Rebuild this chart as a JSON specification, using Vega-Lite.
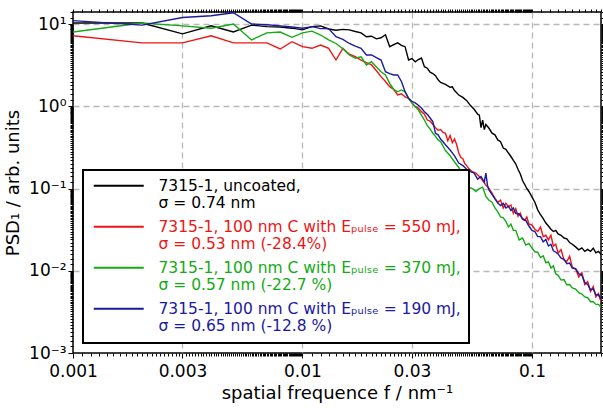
{
"$schema": "https://vega.github.io/schema/vega-lite/v6.json",
"width": 528, "height": 341,
"autosize": {"type": "none"},
"padding": {"left": 73, "top": 12, "right": 2, "bottom": 55},
"background": "white",
"config": {"view": {"stroke": "black", "strokeWidth": 1.5}, "font": "DejaVu Sans"},
"datasets": {
"psd": [
{"s":"k","f":0.001,"v":10.3},{"s":"k","f":0.002,"v":10.3},{"s":"k","f":0.003,"v":7.6},{"s":"k","f":0.004,"v":9.5},{"s":"k","f":0.005,"v":8.0},{"s":"k","f":0.006,"v":9.7},{"s":"k","f":0.007,"v":9.3},{"s":"k","f":0.008,"v":9.2},{"s":"k","f":0.009,"v":8.9},{"s":"k","f":0.010,"v":8.5},{"s":"k","f":0.011,"v":9.3},{"s":"k","f":0.012,"v":9.5},{"s":"k","f":0.013,"v":8.7},{"s":"k","f":0.014,"v":8.4},{"s":"k","f":0.015,"v":8.6},{"s":"k","f":0.016,"v":8.5},{"s":"k","f":0.017,"v":8.1},{"s":"k","f":0.018,"v":7.8},{"s":"k","f":0.019,"v":7.0},{"s":"k","f":0.020,"v":7.1},{"s":"k","f":0.021,"v":6.6},{"s":"k","f":0.022,"v":6.8},{"s":"k","f":0.023,"v":7.4},{"s":"k","f":0.024,"v":5.3},{"s":"k","f":0.025,"v":5.6},{"s":"k","f":0.026,"v":5.9},{"s":"k","f":0.027,"v":5.5},{"s":"k","f":0.028,"v":5.3},{"s":"k","f":0.029,"v":3.65},{"s":"k","f":0.030,"v":3.8},{"s":"k","f":0.031,"v":3.47},{"s":"k","f":0.032,"v":3.7},{"s":"k","f":0.033,"v":3.86},{"s":"k","f":0.034,"v":3.03},{"s":"k","f":0.035,"v":2.9},{"s":"k","f":0.036,"v":2.6},{"s":"k","f":0.037,"v":2.5},{"s":"k","f":0.038,"v":2.35},{"s":"k","f":0.039,"v":2.1},{"s":"k","f":0.040,"v":1.95},{"s":"k","f":0.042,"v":1.85},{"s":"k","f":0.044,"v":1.7},{"s":"k","f":0.045,"v":1.72},{"s":"k","f":0.046,"v":1.55},{"s":"k","f":0.048,"v":1.37},{"s":"k","f":0.050,"v":1.28},{"s":"k","f":0.052,"v":1.17},{"s":"k","f":0.054,"v":1.02},{"s":"k","f":0.056,"v":0.92},{"s":"k","f":0.058,"v":0.80},{"s":"k","f":0.059,"v":0.78},{"s":"k","f":0.060,"v":0.55},{"s":"k","f":0.061,"v":0.68},{"s":"k","f":0.062,"v":0.52},{"s":"k","f":0.063,"v":0.60},{"s":"k","f":0.065,"v":0.54},{"s":"k","f":0.067,"v":0.47},{"s":"k","f":0.069,"v":0.45},{"s":"k","f":0.071,"v":0.39},{"s":"k","f":0.073,"v":0.37},{"s":"k","f":0.075,"v":0.31},{"s":"k","f":0.077,"v":0.30},{"s":"k","f":0.079,"v":0.27},{"s":"k","f":0.081,"v":0.245},{"s":"k","f":0.083,"v":0.22},{"s":"k","f":0.085,"v":0.20},{"s":"k","f":0.087,"v":0.17},{"s":"k","f":0.089,"v":0.15},{"s":"k","f":0.091,"v":0.125},{"s":"k","f":0.093,"v":0.112},{"s":"k","f":0.095,"v":0.10},{"s":"k","f":0.097,"v":0.092},{"s":"k","f":0.100,"v":0.079},{"s":"k","f":0.103,"v":0.068},{"s":"k","f":0.106,"v":0.055},{"s":"k","f":0.109,"v":0.048},{"s":"k","f":0.112,"v":0.043},{"s":"k","f":0.115,"v":0.038},{"s":"k","f":0.118,"v":0.035},{"s":"k","f":0.121,"v":0.032},{"s":"k","f":0.124,"v":0.030},{"s":"k","f":0.127,"v":0.031},{"s":"k","f":0.130,"v":0.028},{"s":"k","f":0.134,"v":0.027},{"s":"k","f":0.138,"v":0.025},{"s":"k","f":0.142,"v":0.0245},{"s":"k","f":0.146,"v":0.022},{"s":"k","f":0.150,"v":0.021},{"s":"k","f":0.155,"v":0.0195},{"s":"k","f":0.160,"v":0.018},{"s":"k","f":0.165,"v":0.019},{"s":"k","f":0.170,"v":0.0172},{"s":"k","f":0.175,"v":0.0182},{"s":"k","f":0.180,"v":0.0172},{"s":"k","f":0.185,"v":0.0188},{"s":"k","f":0.190,"v":0.0165},{"s":"k","f":0.195,"v":0.0172},{"s":"k","f":0.200,"v":0.0158},
{"s":"r","f":0.001,"v":7.2},{"s":"r","f":0.002,"v":5.9},{"s":"r","f":0.003,"v":5.9},{"s":"r","f":0.004,"v":7.2},{"s":"r","f":0.005,"v":5.9},{"s":"r","f":0.006,"v":5.9},{"s":"r","f":0.007,"v":5.9},{"s":"r","f":0.008,"v":4.97},{"s":"r","f":0.009,"v":6.1},{"s":"r","f":0.010,"v":5.3},{"s":"r","f":0.011,"v":5.07},{"s":"r","f":0.012,"v":5.56},{"s":"r","f":0.013,"v":5.07},{"s":"r","f":0.014,"v":3.65},{"s":"r","f":0.015,"v":5.07},{"s":"r","f":0.016,"v":4.3},{"s":"r","f":0.017,"v":4.0},{"s":"r","f":0.018,"v":3.65},{"s":"r","f":0.019,"v":3.4},{"s":"r","f":0.020,"v":3.18},{"s":"r","f":0.021,"v":2.7},{"s":"r","f":0.022,"v":2.29},{"s":"r","f":0.023,"v":2.0},{"s":"r","f":0.024,"v":1.73},{"s":"r","f":0.025,"v":1.6},{"s":"r","f":0.026,"v":1.37},{"s":"r","f":0.027,"v":1.42},{"s":"r","f":0.028,"v":1.3},{"s":"r","f":0.029,"v":1.25},{"s":"r","f":0.030,"v":1.1},{"s":"r","f":0.031,"v":0.99},{"s":"r","f":0.032,"v":0.95},{"s":"r","f":0.033,"v":0.86},{"s":"r","f":0.034,"v":0.80},{"s":"r","f":0.035,"v":0.68},{"s":"r","f":0.036,"v":0.66},{"s":"r","f":0.037,"v":0.60},{"s":"r","f":0.038,"v":0.55},{"s":"r","f":0.039,"v":0.51},{"s":"r","f":0.040,"v":0.52},{"s":"r","f":0.041,"v":0.48},{"s":"r","f":0.042,"v":0.47},{"s":"r","f":0.043,"v":0.38},{"s":"r","f":0.044,"v":0.44},{"s":"r","f":0.045,"v":0.36},{"s":"r","f":0.046,"v":0.40},{"s":"r","f":0.047,"v":0.34},{"s":"r","f":0.048,"v":0.27},{"s":"r","f":0.049,"v":0.24},{"s":"r","f":0.050,"v":0.23},{"s":"r","f":0.051,"v":0.20},{"s":"r","f":0.052,"v":0.19},{"s":"r","f":0.053,"v":0.175},{"s":"r","f":0.055,"v":0.16},{"s":"r","f":0.057,"v":0.154},{"s":"r","f":0.059,"v":0.14},{"s":"r","f":0.061,"v":0.125},{"s":"r","f":0.063,"v":0.11},{"s":"r","f":0.065,"v":0.10},{"s":"r","f":0.067,"v":0.088},{"s":"r","f":0.069,"v":0.076},{"s":"r","f":0.071,"v":0.068},{"s":"r","f":0.073,"v":0.072},{"s":"r","f":0.075,"v":0.058},{"s":"r","f":0.077,"v":0.066},{"s":"r","f":0.079,"v":0.06},{"s":"r","f":0.081,"v":0.063},{"s":"r","f":0.083,"v":0.05},{"s":"r","f":0.085,"v":0.057},{"s":"r","f":0.087,"v":0.046},{"s":"r","f":0.089,"v":0.05},{"s":"r","f":0.091,"v":0.042},{"s":"r","f":0.093,"v":0.041},{"s":"r","f":0.095,"v":0.045},{"s":"r","f":0.097,"v":0.037},{"s":"r","f":0.100,"v":0.036},{"s":"r","f":0.103,"v":0.032},{"s":"r","f":0.106,"v":0.030},{"s":"r","f":0.109,"v":0.034},{"s":"r","f":0.112,"v":0.026},{"s":"r","f":0.115,"v":0.027},{"s":"r","f":0.118,"v":0.0237},{"s":"r","f":0.121,"v":0.027},{"s":"r","f":0.124,"v":0.020},{"s":"r","f":0.127,"v":0.021},{"s":"r","f":0.130,"v":0.0164},{"s":"r","f":0.134,"v":0.018},{"s":"r","f":0.138,"v":0.0135},{"s":"r","f":0.142,"v":0.013},{"s":"r","f":0.146,"v":0.015},{"s":"r","f":0.150,"v":0.011},{"s":"r","f":0.155,"v":0.0105},{"s":"r","f":0.160,"v":0.0084},{"s":"r","f":0.165,"v":0.0095},{"s":"r","f":0.170,"v":0.0068},{"s":"r","f":0.175,"v":0.0074},{"s":"r","f":0.180,"v":0.0056},{"s":"r","f":0.185,"v":0.0064},{"s":"r","f":0.190,"v":0.0048},{"s":"r","f":0.195,"v":0.0053},{"s":"r","f":0.200,"v":0.0042},
{"s":"g","f":0.001,"v":8.0},{"s":"g","f":0.002,"v":10.3},{"s":"g","f":0.003,"v":9.5},{"s":"g","f":0.004,"v":8.9},{"s":"g","f":0.005,"v":10.0},{"s":"g","f":0.006,"v":6.4},{"s":"g","f":0.007,"v":7.8},{"s":"g","f":0.008,"v":8.0},{"s":"g","f":0.009,"v":6.9},{"s":"g","f":0.010,"v":7.8},{"s":"g","f":0.011,"v":8.2},{"s":"g","f":0.012,"v":7.35},{"s":"g","f":0.013,"v":6.4},{"s":"g","f":0.014,"v":5.8},{"s":"g","f":0.015,"v":5.0},{"s":"g","f":0.016,"v":4.2},{"s":"g","f":0.017,"v":3.83},{"s":"g","f":0.018,"v":4.0},{"s":"g","f":0.019,"v":3.18},{"s":"g","f":0.020,"v":3.48},{"s":"g","f":0.021,"v":3.0},{"s":"g","f":0.022,"v":2.63},{"s":"g","f":0.023,"v":2.4},{"s":"g","f":0.024,"v":1.9},{"s":"g","f":0.025,"v":1.6},{"s":"g","f":0.026,"v":1.5},{"s":"g","f":0.027,"v":1.58},{"s":"g","f":0.028,"v":1.5},{"s":"g","f":0.029,"v":1.25},{"s":"g","f":0.030,"v":1.1},{"s":"g","f":0.031,"v":0.99},{"s":"g","f":0.032,"v":0.9},{"s":"g","f":0.033,"v":0.78},{"s":"g","f":0.034,"v":0.68},{"s":"g","f":0.035,"v":0.58},{"s":"g","f":0.036,"v":0.53},{"s":"g","f":0.037,"v":0.47},{"s":"g","f":0.038,"v":0.43},{"s":"g","f":0.039,"v":0.39},{"s":"g","f":0.040,"v":0.37},{"s":"g","f":0.042,"v":0.29},{"s":"g","f":0.044,"v":0.25},{"s":"g","f":0.046,"v":0.21},{"s":"g","f":0.048,"v":0.18},{"s":"g","f":0.050,"v":0.15},{"s":"g","f":0.052,"v":0.12},{"s":"g","f":0.053,"v":0.104},{"s":"g","f":0.055,"v":0.10},{"s":"g","f":0.057,"v":0.092},{"s":"g","f":0.059,"v":0.1},{"s":"g","f":0.061,"v":0.104},{"s":"g","f":0.063,"v":0.08},{"s":"g","f":0.065,"v":0.072},{"s":"g","f":0.067,"v":0.068},{"s":"g","f":0.069,"v":0.058},{"s":"g","f":0.071,"v":0.052},{"s":"g","f":0.073,"v":0.045},{"s":"g","f":0.075,"v":0.044},{"s":"g","f":0.077,"v":0.04},{"s":"g","f":0.079,"v":0.034},{"s":"g","f":0.081,"v":0.037},{"s":"g","f":0.083,"v":0.031},{"s":"g","f":0.085,"v":0.031},{"s":"g","f":0.088,"v":0.0237},{"s":"g","f":0.091,"v":0.025},{"s":"g","f":0.094,"v":0.0205},{"s":"g","f":0.097,"v":0.0215},{"s":"g","f":0.100,"v":0.0189},{"s":"g","f":0.103,"v":0.017},{"s":"g","f":0.106,"v":0.0168},{"s":"g","f":0.109,"v":0.0145},{"s":"g","f":0.112,"v":0.0152},{"s":"g","f":0.115,"v":0.0125},{"s":"g","f":0.118,"v":0.0128},{"s":"g","f":0.121,"v":0.0108},{"s":"g","f":0.124,"v":0.0115},{"s":"g","f":0.127,"v":0.0092},{"s":"g","f":0.130,"v":0.0088},{"s":"g","f":0.134,"v":0.0077},{"s":"g","f":0.138,"v":0.0078},{"s":"g","f":0.142,"v":0.0067},{"s":"g","f":0.146,"v":0.0068},{"s":"g","f":0.150,"v":0.0062},{"s":"g","f":0.155,"v":0.006},{"s":"g","f":0.160,"v":0.0054},{"s":"g","f":0.165,"v":0.0052},{"s":"g","f":0.170,"v":0.0048},{"s":"g","f":0.175,"v":0.0047},{"s":"g","f":0.180,"v":0.0042},{"s":"g","f":0.185,"v":0.0042},{"s":"g","f":0.190,"v":0.0039},{"s":"g","f":0.195,"v":0.0039},{"s":"g","f":0.200,"v":0.0036},
{"s":"b","f":0.001,"v":11.0},{"s":"b","f":0.002,"v":9.7},{"s":"b","f":0.003,"v":12.0},{"s":"b","f":0.004,"v":12.6},{"s":"b","f":0.005,"v":13.7},{"s":"b","f":0.006,"v":10.0},{"s":"b","f":0.007,"v":9.8},{"s":"b","f":0.008,"v":9.5},{"s":"b","f":0.009,"v":9.2},{"s":"b","f":0.010,"v":8.9},{"s":"b","f":0.011,"v":9.3},{"s":"b","f":0.012,"v":8.8},{"s":"b","f":0.013,"v":8.8},{"s":"b","f":0.014,"v":7.0},{"s":"b","f":0.015,"v":6.5},{"s":"b","f":0.016,"v":5.8},{"s":"b","f":0.017,"v":5.4},{"s":"b","f":0.018,"v":5.07},{"s":"b","f":0.019,"v":4.2},{"s":"b","f":0.020,"v":4.2},{"s":"b","f":0.021,"v":3.9},{"s":"b","f":0.022,"v":3.65},{"s":"b","f":0.023,"v":2.63},{"s":"b","f":0.024,"v":2.5},{"s":"b","f":0.025,"v":2.4},{"s":"b","f":0.026,"v":2.4},{"s":"b","f":0.027,"v":2.0},{"s":"b","f":0.028,"v":1.5},{"s":"b","f":0.029,"v":1.25},{"s":"b","f":0.030,"v":1.15},{"s":"b","f":0.031,"v":1.1},{"s":"b","f":0.032,"v":1.03},{"s":"b","f":0.033,"v":0.95},{"s":"b","f":0.034,"v":0.86},{"s":"b","f":0.035,"v":0.80},{"s":"b","f":0.036,"v":0.72},{"s":"b","f":0.037,"v":0.65},{"s":"b","f":0.038,"v":0.47},{"s":"b","f":0.039,"v":0.45},{"s":"b","f":0.040,"v":0.40},{"s":"b","f":0.042,"v":0.34},{"s":"b","f":0.044,"v":0.294},{"s":"b","f":0.046,"v":0.25},{"s":"b","f":0.048,"v":0.204},{"s":"b","f":0.050,"v":0.19},{"s":"b","f":0.052,"v":0.17},{"s":"b","f":0.054,"v":0.16},{"s":"b","f":0.056,"v":0.154},{"s":"b","f":0.058,"v":0.13},{"s":"b","f":0.060,"v":0.14},{"s":"b","f":0.062,"v":0.12},{"s":"b","f":0.063,"v":0.154},{"s":"b","f":0.064,"v":0.11},{"s":"b","f":0.065,"v":0.096},{"s":"b","f":0.067,"v":0.085},{"s":"b","f":0.069,"v":0.075},{"s":"b","f":0.071,"v":0.0667},{"s":"b","f":0.073,"v":0.062},{"s":"b","f":0.075,"v":0.066},{"s":"b","f":0.077,"v":0.058},{"s":"b","f":0.079,"v":0.061},{"s":"b","f":0.081,"v":0.054},{"s":"b","f":0.083,"v":0.058},{"s":"b","f":0.085,"v":0.05},{"s":"b","f":0.088,"v":0.049},{"s":"b","f":0.091,"v":0.043},{"s":"b","f":0.094,"v":0.041},{"s":"b","f":0.097,"v":0.035},{"s":"b","f":0.100,"v":0.031},{"s":"b","f":0.103,"v":0.030},{"s":"b","f":0.106,"v":0.026},{"s":"b","f":0.109,"v":0.026},{"s":"b","f":0.112,"v":0.0225},{"s":"b","f":0.115,"v":0.024},{"s":"b","f":0.118,"v":0.02},{"s":"b","f":0.121,"v":0.021},{"s":"b","f":0.124,"v":0.0175},{"s":"b","f":0.127,"v":0.0168},{"s":"b","f":0.130,"v":0.016},{"s":"b","f":0.134,"v":0.0142},{"s":"b","f":0.138,"v":0.0138},{"s":"b","f":0.142,"v":0.0122},{"s":"b","f":0.146,"v":0.0124},{"s":"b","f":0.150,"v":0.0108},{"s":"b","f":0.155,"v":0.0106},{"s":"b","f":0.160,"v":0.0092},{"s":"b","f":0.165,"v":0.0088},{"s":"b","f":0.170,"v":0.0072},{"s":"b","f":0.175,"v":0.0068},{"s":"b","f":0.180,"v":0.0059},{"s":"b","f":0.185,"v":0.006},{"s":"b","f":0.190,"v":0.0051},{"s":"b","f":0.195,"v":0.0051},{"s":"b","f":0.200,"v":0.0045}
]},
"data": {"name": "psd"},
"layer": [
{
"mark": {"type": "line", "strokeWidth": 1.4, "clip": true},
"encoding": {
"x": {"field": "f", "type": "quantitative",
 "scale": {"type": "log", "domain": [0.001, 0.2], "nice": false},
 "axis": {"orient": "bottom",
  "values": [0.001,0.0011,0.0012,0.0013,0.0014,0.0015,0.0016,0.0017,0.0018,0.0019,0.002,0.0021,0.0022,0.0023,0.0024,0.0025,0.0026,0.0027,0.0028,0.0029,0.003,0.0031,0.0032,0.0033,0.0034,0.0035,0.0036,0.0037,0.0038,0.0039,0.004,0.0041,0.0042,0.0043,0.0044,0.0045,0.0046,0.0047,0.0048,0.0049,0.005,0.0051,0.0052,0.0053,0.0054,0.0055,0.0056,0.0057,0.0058,0.0059,0.006,0.0061,0.0062,0.0063,0.0064,0.0065,0.0066,0.0067,0.0068,0.0069,0.007,0.0071,0.0072,0.0073,0.0074,0.0075,0.0076,0.0077,0.0078,0.0079,0.008,0.0081,0.0082,0.0083,0.0084,0.0085,0.0086,0.0087,0.0088,0.0089,0.009,0.0091,0.0092,0.0093,0.0094,0.0095,0.0096,0.0097,0.0098,0.0099,0.01,0.011,0.012,0.013,0.014,0.015,0.016,0.017,0.018,0.019,0.02,0.021,0.022,0.023,0.024,0.025,0.026,0.027,0.028,0.029,0.03,0.031,0.032,0.033,0.034,0.035,0.036,0.037,0.038,0.039,0.04,0.041,0.042,0.043,0.044,0.045,0.046,0.047,0.048,0.049,0.05,0.051,0.052,0.053,0.054,0.055,0.056,0.057,0.058,0.059,0.06,0.061,0.062,0.063,0.064,0.065,0.066,0.067,0.068,0.069,0.07,0.071,0.072,0.073,0.074,0.075,0.076,0.077,0.078,0.079,0.08,0.081,0.082,0.083,0.084,0.085,0.086,0.087,0.088,0.089,0.09,0.091,0.092,0.093,0.094,0.095,0.096,0.097,0.098,0.099,0.1,0.11,0.12,0.13,0.14,0.15,0.16,0.17,0.18,0.19,0.2],
  "labelExpr": "indexof([0.001,0.003,0.01,0.03,0.1], datum.value) >= 0 ? datum.value == 0.001 ? '0.001' : datum.value == 0.003 ? '0.003' : datum.value == 0.01 ? '0.01' : datum.value == 0.03 ? '0.03' : '0.1' : ''",
  "labelOverlap": false, "labelFlush": false, "labelBound": false,
  "labelFontSize": 17, "labelColor": "black", "labelPadding": 5,
  "title": "spatial frequence f / nm⁻¹", "titleFontSize": 18, "titleFontWeight": "normal", "titleColor": "black", "titlePadding": 5,
  "domain": false, "tickColor": "black", "tickWidth": 1,
  "tickSize": {"condition": {"test": "indexof([0.001,0.003,0.01,0.03,0.1], datum.value) >= 0", "value": 5}, "value": 3},
  "grid": true, "gridColor": "#b8b8b8", "gridDash": [6, 4], "gridWidth": 1.3,
  "gridOpacity": {"condition": {"test": "indexof([0.003,0.01,0.03,0.1], datum.value) >= 0", "value": 1}, "value": 0}
 }},
"y": {"field": "v", "type": "quantitative",
 "scale": {"type": "log", "domain": [0.001, 14], "nice": false},
 "axis": {"orient": "left",
  "values": [0.001,0.0012,0.0014,0.0016,0.0018,0.002,0.0022,0.0024,0.0026,0.0028,0.003,0.0032,0.0034,0.0036,0.0038,0.004,0.0042,0.0044,0.0046,0.0048,0.005,0.0052,0.0054,0.0056,0.0058,0.006,0.0062,0.0064,0.0066,0.0068,0.007,0.0072,0.0074,0.0076,0.0078,0.008,0.0082,0.0084,0.0086,0.0088,0.009,0.0092,0.0094,0.0096,0.0098,0.01,0.012,0.014,0.016,0.018,0.02,0.022,0.024,0.026,0.028,0.03,0.032,0.034,0.036,0.038,0.04,0.042,0.044,0.046,0.048,0.05,0.052,0.054,0.056,0.058,0.06,0.062,0.064,0.066,0.068,0.07,0.072,0.074,0.076,0.078,0.08,0.082,0.084,0.086,0.088,0.09,0.092,0.094,0.096,0.098,0.1,0.12,0.14,0.16,0.18,0.2,0.22,0.24,0.26,0.28,0.3,0.32,0.34,0.36,0.38,0.4,0.42,0.44,0.46,0.48,0.5,0.52,0.54,0.56,0.58,0.6,0.62,0.64,0.66,0.68,0.7,0.72,0.74,0.76,0.78,0.8,0.82,0.84,0.86,0.88,0.9,0.92,0.94,0.96,0.98,1,1.2,1.4,1.6,1.8,2,2.2,2.4,2.6,2.8,3,3.2,3.4,3.6,3.8,4,4.2,4.4,4.6,4.8,5,5.2,5.4,5.6,5.8,6,6.2,6.4,6.6,6.8,7,7.2,7.4,7.6,7.8,8,8.2,8.4,8.6,8.8,9,9.2,9.4,9.6,9.8,10,12,14],
  "labelExpr": "datum.value == 10 ? '10¹' : datum.value == 1 ? '10⁰' : datum.value == 0.1 ? '10⁻¹' : datum.value == 0.01 ? '10⁻²' : datum.value == 0.001 ? '10⁻³' : ''",
  "labelOverlap": false, "labelFlush": false, "labelBound": false,
  "labelFontSize": 17, "labelColor": "black", "labelPadding": 2,
  "title": "PSD₁ / arb. units", "titleFontSize": 18, "titleFontWeight": "normal", "titleColor": "black", "titlePadding": 6,
  "domain": false, "tickColor": "black", "tickWidth": 1,
  "tickSize": {"condition": {"test": "indexof([0.001,0.01,0.1,1,10], datum.value) >= 0", "value": 5}, "value": 3},
  "grid": true, "gridColor": "#b8b8b8", "gridDash": [6, 4], "gridWidth": 1.3,
  "gridOpacity": {"condition": {"test": "indexof([0.01,0.1,1,10], datum.value) >= 0", "value": 1}, "value": 0}
 }},
"color": {"field": "s", "type": "nominal",
 "scale": {"domain": ["k", "r", "g", "b"], "range": ["#000000", "#ee1515", "#14aa14", "#1a1aa0"]},
 "legend": {
  "title": null, "orient": "bottom-left", "offset": 10,
  "symbolType": "M-5,0H5", "symbolSize": 100, "symbolStrokeWidth": 2, "symbolOffset": 20,
  "labelFontSize": 15.5, "labelLineHeight": 21.5, "labelLimit": 0, "labelOffset": 32,
  "labelBaseline": "middle",
  "labelExpr": "datum.value == 'k' ? ['7315-1, uncoated,', 'σ = 0.74 nm'] : datum.value == 'r' ? ['7315-1, 100 nm C with Eₚᵤₗₛₑ = 550 mJ,', 'σ = 0.53 nm (-28.4%)'] : datum.value == 'g' ? ['7315-1, 100 nm C with Eₚᵤₗₛₑ = 370 mJ,', 'σ = 0.57 nm (-22.7 %)'] : ['7315-1, 100 nm C with Eₚᵤₗₛₑ = 190 mJ,', 'σ = 0.65 nm (-12.8 %)']",
  "padding": 8, "rowPadding": 7, "strokeColor": "black", "fillColor": "white",
  "encode": {
   "labels": {"update": {"fill": {"scale": "color", "field": "value"}}},
   "legend": {"update": {"strokeWidth": {"value": 2}}}
  }
 }}
}
},
{
"mark": {"type": "line", "opacity": 0},
"encoding": {
"x": {"field": "f", "type": "quantitative",
 "axis": {"orient": "top", "labels": false, "title": null, "grid": false, "domain": false, "tickColor": "black", "tickSize": 3,
  "values": [0.001,0.0011,0.0012,0.0013,0.0014,0.0015,0.0016,0.0017,0.0018,0.0019,0.002,0.0021,0.0022,0.0023,0.0024,0.0025,0.0026,0.0027,0.0028,0.0029,0.003,0.0031,0.0032,0.0033,0.0034,0.0035,0.0036,0.0037,0.0038,0.0039,0.004,0.0041,0.0042,0.0043,0.0044,0.0045,0.0046,0.0047,0.0048,0.0049,0.005,0.0051,0.0052,0.0053,0.0054,0.0055,0.0056,0.0057,0.0058,0.0059,0.006,0.0061,0.0062,0.0063,0.0064,0.0065,0.0066,0.0067,0.0068,0.0069,0.007,0.0071,0.0072,0.0073,0.0074,0.0075,0.0076,0.0077,0.0078,0.0079,0.008,0.0081,0.0082,0.0083,0.0084,0.0085,0.0086,0.0087,0.0088,0.0089,0.009,0.0091,0.0092,0.0093,0.0094,0.0095,0.0096,0.0097,0.0098,0.0099,0.01,0.011,0.012,0.013,0.014,0.015,0.016,0.017,0.018,0.019,0.02,0.021,0.022,0.023,0.024,0.025,0.026,0.027,0.028,0.029,0.03,0.031,0.032,0.033,0.034,0.035,0.036,0.037,0.038,0.039,0.04,0.041,0.042,0.043,0.044,0.045,0.046,0.047,0.048,0.049,0.05,0.051,0.052,0.053,0.054,0.055,0.056,0.057,0.058,0.059,0.06,0.061,0.062,0.063,0.064,0.065,0.066,0.067,0.068,0.069,0.07,0.071,0.072,0.073,0.074,0.075,0.076,0.077,0.078,0.079,0.08,0.081,0.082,0.083,0.084,0.085,0.086,0.087,0.088,0.089,0.09,0.091,0.092,0.093,0.094,0.095,0.096,0.097,0.098,0.099,0.1,0.11,0.12,0.13,0.14,0.15,0.16,0.17,0.18,0.19,0.2]}},
"y": {"field": "v", "type": "quantitative",
 "axis": {"orient": "right", "labels": false, "title": null, "grid": false, "domain": false, "tickColor": "black", "tickSize": 3,
  "values": [0.001,0.0012,0.0014,0.0016,0.0018,0.002,0.0022,0.0024,0.0026,0.0028,0.003,0.0032,0.0034,0.0036,0.0038,0.004,0.0042,0.0044,0.0046,0.0048,0.005,0.0052,0.0054,0.0056,0.0058,0.006,0.0062,0.0064,0.0066,0.0068,0.007,0.0072,0.0074,0.0076,0.0078,0.008,0.0082,0.0084,0.0086,0.0088,0.009,0.0092,0.0094,0.0096,0.0098,0.01,0.012,0.014,0.016,0.018,0.02,0.022,0.024,0.026,0.028,0.03,0.032,0.034,0.036,0.038,0.04,0.042,0.044,0.046,0.048,0.05,0.052,0.054,0.056,0.058,0.06,0.062,0.064,0.066,0.068,0.07,0.072,0.074,0.076,0.078,0.08,0.082,0.084,0.086,0.088,0.09,0.092,0.094,0.096,0.098,0.1,0.12,0.14,0.16,0.18,0.2,0.22,0.24,0.26,0.28,0.3,0.32,0.34,0.36,0.38,0.4,0.42,0.44,0.46,0.48,0.5,0.52,0.54,0.56,0.58,0.6,0.62,0.64,0.66,0.68,0.7,0.72,0.74,0.76,0.78,0.8,0.82,0.84,0.86,0.88,0.9,0.92,0.94,0.96,0.98,1,1.2,1.4,1.6,1.8,2,2.2,2.4,2.6,2.8,3,3.2,3.4,3.6,3.8,4,4.2,4.4,4.6,4.8,5,5.2,5.4,5.6,5.8,6,6.2,6.4,6.6,6.8,7,7.2,7.4,7.6,7.8,8,8.2,8.4,8.6,8.8,9,9.2,9.4,9.6,9.8,10,12,14]}}
}
}
],
"resolve": {"axis": {"x": "independent", "y": "independent"}}
}
